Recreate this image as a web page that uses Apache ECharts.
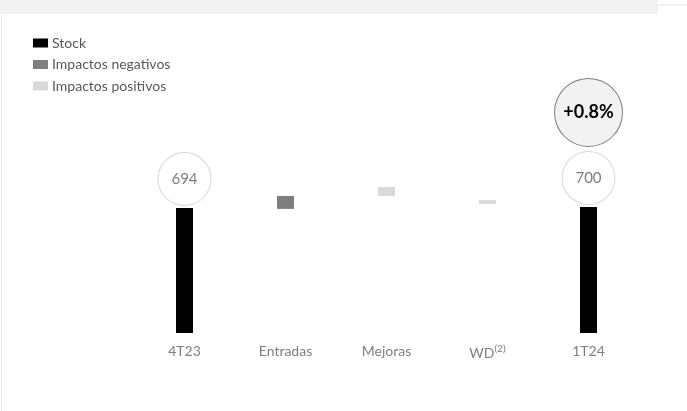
<!DOCTYPE html>
<html>
<head>
<meta charset="utf-8">
<script src="https://cdn.jsdelivr.net/npm/echarts@6/dist/echarts.min.js"></script>
<style>
html,body{margin:0;padding:0;background:#fff;}
#c{width:687px;height:411px;}
</style>
</head>
<body>
<div id="c"></div>
<script>
// ---- data ----
var categories = ['4T23', 'Entradas', 'Mejoras', 'WD', '1T24'];
var stockValues = [694, null, null, null, 700];
var impactBase = [null, 689, 761, 716, null];      // invisible offset (schematic waterfall)
var negativeImpacts = [null, 72, null, null, null];
var positiveImpacts = [null, null, 50, 22, null];
var changeLabel = '+0.8%';
var legendNames = ['Stock', 'Impactos negativos', 'Impactos positivos'];

var FONT = 'Lato';
var chart = echarts.init(document.getElementById('c'));

chart.setOption({
  animation: false,
  backgroundColor: '#ffffff',
  textStyle: { fontFamily: FONT },
  graphic: [
    { type: 'rect', shape: { x: 0, y: 0, width: 658, height: 14 }, style: { fill: '#f2f2f2' }, silent: true },
    { type: 'line', shape: { x1: 658, y1: 5, x2: 687, y2: 5 }, style: { stroke: '#e3e3e3', lineWidth: 1 }, silent: true },
    { type: 'line', shape: { x1: 1.5, y1: 14, x2: 1.5, y2: 411 }, style: { stroke: '#e8e8e8', lineWidth: 1 }, silent: true }
  ],
  legend: {
    orient: 'vertical',
    left: 28,
    top: 31,
    itemWidth: 15,
    itemHeight: 9,
    itemGap: 7.5,
    icon: 'rect',
    data: legendNames,
    textStyle: { fontFamily: FONT, fontSize: 14, color: '#595959', padding: [0, 0, 0, -1] }
  },
  grid: { left: 134, right: 48, top: 40, bottom: 78 },
  xAxis: {
    type: 'category',
    data: categories,
    axisLine: { show: false },
    axisTick: { show: false },
    axisLabel: {
      margin: 11,
      fontFamily: FONT,
      fontSize: 14,
      color: '#7f7f7f',
      formatter: function (v) { return v === 'WD' ? 'WD{sup|(2)}' : v; },
      rich: { sup: { fontSize: 10, color: '#7f7f7f', fontFamily: FONT, verticalAlign: 'top', padding: [0, 0, 9, 0] } }
    }
  },
  yAxis: {
    type: 'value',
    min: 0,
    max: 1627,
    show: false,
    splitLine: { show: false }
  },
  series: [
    {
      name: 'base',
      type: 'bar',
      stack: 'w',
      barWidth: 17,
      itemStyle: { color: 'transparent' },
      data: impactBase,
      silent: true
    },
    {
      name: legendNames[0],
      type: 'bar',
      stack: 'w',
      barWidth: 17,
      itemStyle: { color: '#000000' },
      data: stockValues,
      label: {
        show: true,
        position: 'top',
        distance: 3,
        formatter: function (p) {
          if (p.dataIndex === categories.length - 1) {
            return '{big|' + changeLabel + '}\n{small|' + p.value + '}';
          }
          return '{small|' + p.value + '}';
        },
        rich: {
          small: {
            width: 52, height: 52, lineHeight: 52,
            borderRadius: 26, borderColor: '#d9d9d9', borderWidth: 1,
            backgroundColor: '#ffffff', align: 'center',
            fontSize: 15, color: '#7f7f7f', fontFamily: FONT
          },
          big: {
            width: 67, height: 67, lineHeight: 79,
            borderRadius: 34, borderColor: '#7f7f7f', borderWidth: 1,
            backgroundColor: '#f2f2f2', align: 'center',
            fontSize: 18, fontWeight: 'bold', color: '#000000', fontFamily: FONT
          }
        }
      }
    },
    {
      name: legendNames[1],
      type: 'bar',
      stack: 'w',
      barWidth: 17,
      itemStyle: { color: '#7f7f7f' },
      data: negativeImpacts
    },
    {
      name: legendNames[2],
      type: 'bar',
      stack: 'w',
      barWidth: 17,
      itemStyle: { color: '#d9d9d9' },
      data: positiveImpacts
    }
  ]
});
</script>
</body>
</html>
